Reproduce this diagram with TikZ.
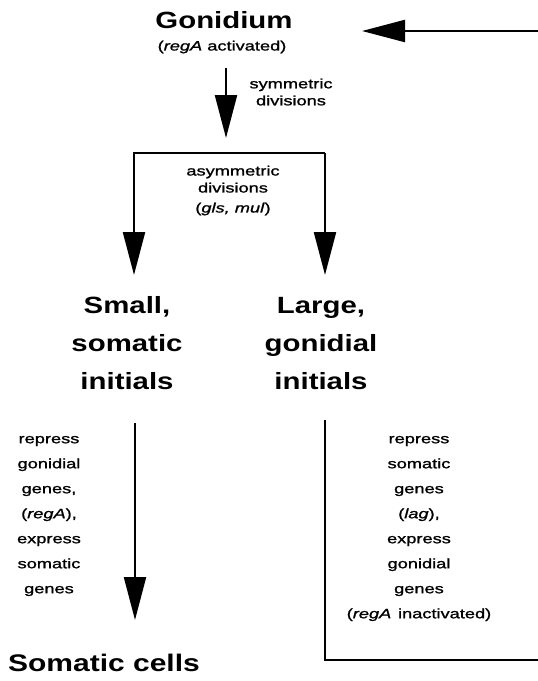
\documentclass[tikz,border=0pt]{standalone}
\usepackage{fontspec}
\setmainfont{Liberation Sans}
\newfontfamily\headfont[FakeStretch=1.25]{Liberation Sans}
\newfontfamily\labfont[FakeStretch=1.35,FakeBold=1.2]{Liberation Sans}
\usetikzlibrary{arrows.meta}
\tikzset{
  line/.style={line width=2.2pt},
  arr/.style={line width=2.2pt,-{Triangle[length=43pt,width=22pt]}},
  head/.style={inner sep=0pt,align=center,font=\headfont\bfseries\fontsize{23.5}{38}\selectfont},
  lab/.style={inner sep=0pt,align=center,font=\labfont\fontsize{13.5}{25}\selectfont}
}
\begin{document}
\begin{tikzpicture}[x=1pt,y=-1pt]
    \useasboundingbox (0,0) rectangle (538,681);
       % cells
       \node[head] (gon) at (224,20.5) {Gonidium};
       \node[lab,font=\labfont\fontsize{13.5}{17}\selectfont] (gonsub) at (222,47) {(\textit{regA} activated)};
       \node[head] (small) at (127,343.5) {Small,\\somatic\\initials};
       \node[head] (large) at (321,343.5) {Large,\\gonidial\\initials};
       \node[head,font=\headfont\bfseries\fontsize{24}{30}\selectfont] (soma) at (104,662.5) {Somatic cells};
       % labels
       \node[lab,font=\labfont\fontsize{13.5}{17}\selectfont] (symlab) at (291,92) {symmetric\\divisions};
       \node[lab,font=\labfont\fontsize{13.5}{17}\selectfont] (asymlab) at (233,190.5) {asymmetric\\divisions\\[3pt](\textit{gls, mul})};
       \node[lab] (somlab) at (49,516) {repress\\gonidial\\genes,\\(\textit{regA}),\\express\\somatic\\genes};
       \node[lab] (gonlab) at (419,528.5) {repress\\somatic\\genes\\(\textit{lag}),\\express\\gonidial\\genes\\(\textit{regA}\enspace inactivated)};
       % arrow ends
       \coordinate (symtop) at (226,68);\coordinate (symtip) at (226,138);
       \coordinate (brL) at (134,153);\coordinate (brR) at (325,153);
       \coordinate (tipL) at (134,275);\coordinate (tipR) at (325,275);
       \coordinate (dntop) at (135,423);\coordinate (dntip) at (135,620);
       \coordinate (loopA) at (325,420);\coordinate (loopB) at (325,660);
       \coordinate (loopC) at (538,660);
       \coordinate (retR) at (538,31);\coordinate (retTip) at (362,31);
       % arrows
       \draw[arr] (symtop) -- (symtip);
       \draw[arr] (brR) -- (brL) -- (tipL);
       \draw[arr] (brR) -- (tipR);
       \draw[arr] (dntop) -- (dntip);
       \draw[line] (loopA) -- (loopB) -- (loopC);
       \draw[arr] (retR) -- (retTip);
\end{tikzpicture}
\end{document}
